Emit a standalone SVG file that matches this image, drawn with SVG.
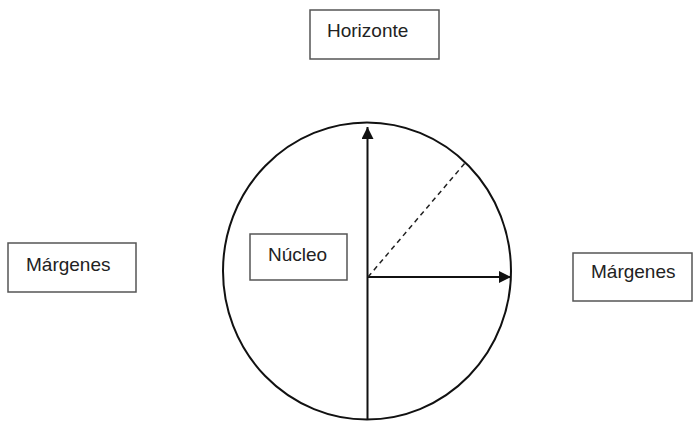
<svg xmlns="http://www.w3.org/2000/svg" width="695" height="421" viewBox="0 0 695 421">
  <style>
    .box { fill: #ffffff; stroke: #555555; stroke-width: 1.5; }
    .lbl { font-family: "Liberation Sans", Arial, sans-serif; font-size: 19px; fill: #222222; }
    .line { stroke: #111111; stroke-width: 2; fill: none; }
    .dash { stroke: #222222; stroke-width: 1.5; stroke-dasharray: 5 4; fill: none; }
  </style>
  <defs>
    <marker id="arrow" viewBox="0 0 12 12" refX="12" refY="6" markerWidth="12" markerHeight="12" markerUnits="userSpaceOnUse" orient="auto">
      <path d="M0,0 L12,6 L0,12 Z" fill="#111111"/>
    </marker>
  </defs>
  <rect width="695" height="421" fill="#ffffff"/>
  <g id="circle">
    <ellipse cx="367" cy="271" rx="144" ry="148.5" fill="none" stroke="#111111" stroke-width="2"/>
  </g>
  <g id="connectors">
    <line class="line" x1="367.5" y1="420" x2="367.5" y2="127" marker-end="url(#arrow)"/>
    <line class="line" x1="368" y1="277" x2="511" y2="277" marker-end="url(#arrow)"/>
    <line class="dash" x1="368" y1="277" x2="465" y2="163"/>
  </g>
  <g id="horizonte">
    <rect class="box" x="310" y="10" width="129" height="49"/>
    <text class="lbl" x="327" y="37">Horizonte</text>
  </g>
  <g id="nucleo">
    <rect class="box" x="250" y="234" width="97" height="46"/>
    <text class="lbl" x="268" y="261">Núcleo</text>
  </g>
  <g id="margenes-left">
    <rect class="box" x="8" y="243" width="128" height="49"/>
    <text class="lbl" x="26" y="271">Márgenes</text>
  </g>
  <g id="margenes-right">
    <rect class="box" x="573" y="253" width="119" height="48"/>
    <text class="lbl" x="591" y="278">Márgenes</text>
  </g>
</svg>
